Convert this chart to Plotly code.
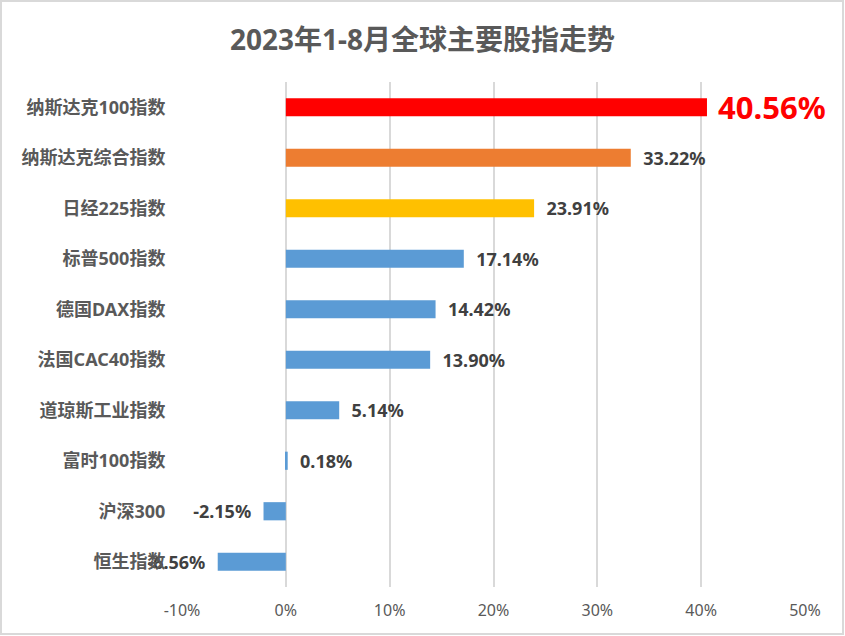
import plotly.graph_objects as go

categories = ["纳斯达克100指数", "纳斯达克综合指数", "日经225指数", "标普500指数", "德国DAX指数",
              "法国CAC40指数", "道琼斯工业指数", "富时100指数", "沪深300", "恒生指数"]
values = [40.56, 33.22, 23.91, 17.14, 14.42, 13.90, 5.14, 0.18, -2.15, -6.56]
bar_colors = ["#FF0000", "#ED7D31", "#FFC000", "#5B9BD5", "#5B9BD5",
              "#5B9BD5", "#5B9BD5", "#5B9BD5", "#5B9BD5", "#5B9BD5"]
tick_vals = [-10, 0, 10, 20, 30, 40, 50]
tick_text = ["-10%", "0%", "10%", "20%", "30%", "40%", "50%"]
title = "2023年1-8月全球主要股指走势"

NB = "\u00a0"
texts = [(NB * 2 + f"{v:.2f}%") if v >= 0 else (f"{v:.2f}%" + NB * 2) for v in values]
texts[0] = NB + f"{values[0]:.2f}%"
text_sizes = [31] + [18] * (len(values) - 1)
text_colors = ["#FF0000"] + ["#404040"] * (len(values) - 1)

FONT = "Noto Sans, Noto Sans CJK SC, sans-serif"

fig = go.Figure(go.Bar(
    x=values, y=categories, orientation="h",
    marker=dict(color=bar_colors, line=dict(width=0)),
    text=texts, textposition="outside", cliponaxis=False, constraintext="none",
    textfont=dict(size=text_sizes, color=text_colors, family=FONT, weight="bold"),
    hoverinfo="skip",
))

W, H = 845, 636
ml, mr, mt, mb = 182, 40, 82, 49
pw, ph = W - ml - mr, H - mt - mb

fig.update_layout(
    width=W, height=H,
    margin=dict(l=ml, r=mr, t=mt, b=mb, autoexpand=False),
    paper_bgcolor="white", plot_bgcolor="white",
    bargap=0.64,
    showlegend=False,
    title=dict(text=title, x=0.5, xref="container", xanchor="center", y=1 - 40 / H, yanchor="middle",
               font=dict(size=28, color="#595959", family=FONT, weight="bold")),
    xaxis=dict(range=[-10, 50], tickvals=tick_vals, ticktext=tick_text,
               showgrid=True, gridcolor="#D9D9D9", gridwidth=1.5,
               zeroline=True, zerolinecolor="#D9D9D9", zerolinewidth=1.5,
               showline=False, ticks="outside", ticklen=9, tickcolor="rgba(0,0,0,0)",
               tickfont=dict(size=16, color="#595959", family=FONT), fixedrange=True),
    yaxis=dict(autorange="reversed", showgrid=False, showline=False, zeroline=False,
               ticks="outside", ticklen=12, tickcolor="rgba(0,0,0,0)",
               tickfont=dict(size=18, color="#595959", family=FONT, weight="bold"), fixedrange=True),
    shapes=[dict(type="rect", xref="paper", yref="paper",
                 x0=(1 - ml) / pw, x1=(W - 2 - ml) / pw,
                 y0=(mt + ph - (H - 2)) / ph, y1=(mt + ph - 1) / ph,
                 line=dict(color="#D9D9D9", width=2), fillcolor="rgba(0,0,0,0)", layer="below")],
)

fig.write_html("out.html", config={"displayModeBar": False},
               post_script="document.body.style.margin='0';document.body.style.overflow='hidden';")
